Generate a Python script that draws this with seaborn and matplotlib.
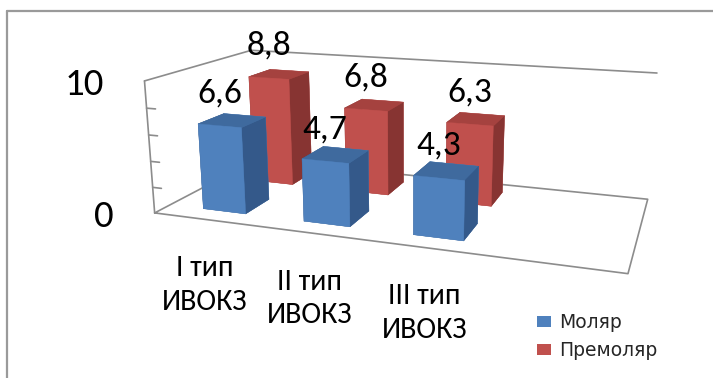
import numpy as np
import matplotlib
matplotlib.use("Agg")
import matplotlib.pyplot as plt
import seaborn as sns
from matplotlib import font_manager
from matplotlib.lines import Line2D
from matplotlib.patches import Patch
from matplotlib.transforms import ScaledTranslation

W, H = 713, 378
sns.set_theme(style="white")

categories = ["I тип\nИВОКЗ", "II тип\nИВОКЗ", "III тип\nИВОКЗ"]
series = ["Моляр", "Премоляр"]
molar = [6.6, 4.7, 4.3]
premolar = [8.8, 6.8, 6.3]
value_ticks = [0, 10]
minor_ticks = [2, 4, 6, 8]

names = {fe.name for fe in font_manager.fontManager.ttflist}
base = "Carlito" if "Carlito" in names else "Liberation Sans"
chart_font = [base, "DejaVu Sans"]
legend_font = ["DejaVu Sans"]

# floor / wall extents of the 3D box
x0, x1, y0, y1 = -0.56, 3.54, -0.5, 1.5
zmax = 10

fig = plt.figure(figsize=(W / 100, H / 100), dpi=100)
ax = fig.add_axes([0.2062, -0.0651, 0.71, 1.3393], projection='3d')
ax.set_xlim(x0, x1); ax.set_ylim(y0, y1); ax.set_zlim(0, zmax)
ax.view_init(elev=14.62, azim=-70.69)
ax.set_proj_type('persp', focal_length=0.319)
ax.set_box_aspect((1, 0.45, 0.29))
ax.computed_zorder = False
ax.set_xticks([]); ax.set_yticks([]); ax.set_zticks([])
ax.set_axis_off()
# the built-in (empty) title / axis label texts are not used
unused = [ax.title, getattr(ax, "_left_title", None), getattr(ax, "_right_title", None)]
for axis in (ax.xaxis, ax.yaxis, ax.zaxis):
    unused += [axis.label, axis.offsetText]
for t in unused:
    if t is not None:
        t.set_visible(False)


def shifted(dx, dy):
    """Data transform moved by (dx, dy) screen pixels."""
    return ax.transData + ScaledTranslation(dx / 100, dy / 100, fig.dpi_scale_trans)

# bar faces: -z, +z (top), -y (front), +y, -x, +x (side)
blue = ["#3F6A9E", "#4F81BD", "#34598A"]
red = ["#A5423F", "#C0504D", "#873432"]
bw = 0.43
bd = 0.47
rows = [(molar, blue, 0.0), (premolar, red, 1.0)]
xs, ys, hs, cols = [], [], [], []
for vals, c, yc in rows:
    for i, v in enumerate(vals):
        xs.append(i - bw / 2); ys.append(yc - bd / 2); hs.append(v)
        cols += [c[0], c[0], c[1], c[1], c[2], c[2]]
ax.bar3d(xs, ys, np.zeros(len(xs)), bw, bd, hs, color=cols, edgecolor=cols,
         linewidth=0.3, shade=False, zorder=3)

# floor and walls outline
fc = "#8c8c8c"
frame_kw = dict(color=fc, lw=1.2, zorder=1, clip_on=False)
ax.plot([x0, x1, x1, x0, x0], [y0, y0, y1, y1, y0], [0, 0, 0, 0, 0], **frame_kw)
ax.plot([x0, x0], [y0, y0], [0, zmax], **frame_kw)
ax.plot([x0, x0, x1], [y0, y1, y1], [zmax, zmax, zmax], **frame_kw)
for z in minor_ticks:
    ax.plot([x0, x0 + 0.09], [y0, y0], [z, z], **frame_kw)

# value axis labels
for z in value_ticks:
    ax.text(x0, y0, z, str(z), ha='right', va='center', fontsize=28, family=chart_font,
            color='black', transform=shifted(-41, -4), zorder=5)

# data labels above each bar
for vals, c, yc in rows:
    for i, v in enumerate(vals):
        ax.text(i, yc - bd / 2, v, f"{v:.1f}".replace('.', ','), ha='center', va='center',
                fontsize=25.5, family=chart_font, color='black', transform=shifted(0, 32), zorder=5)

# category labels under the floor
for i, lab in enumerate(categories):
    ax.text(i, y0, 0, lab, ha='center', va='center', fontsize=21.5, family=chart_font,
            linespacing=1.35, color='black', transform=shifted(-5, -65), zorder=5)

handles = [Patch(facecolor=blue[1], edgecolor='none'), Patch(facecolor=red[1], edgecolor='none')]
fig.legend(handles, series, loc='upper left', bbox_to_anchor=(537 / W, 1 - 313 / H), frameon=False,
           prop={'family': legend_font, 'size': 13.5}, handlelength=0.75, handleheight=0.55,
           handletextpad=0.45, labelspacing=0.5, borderaxespad=0, borderpad=0)

# outer chart border
fig.add_artist(Line2D([7 / W, 7 / W], [0, 1 - 10.5 / H], transform=fig.transFigure, color="#9a9a9a", lw=1.6))
fig.add_artist(Line2D([7 / W, 1], [1 - 10.5 / H, 1 - 10.5 / H], transform=fig.transFigure, color="#9a9a9a", lw=1.6))

fig.savefig("out.png", dpi=100)
